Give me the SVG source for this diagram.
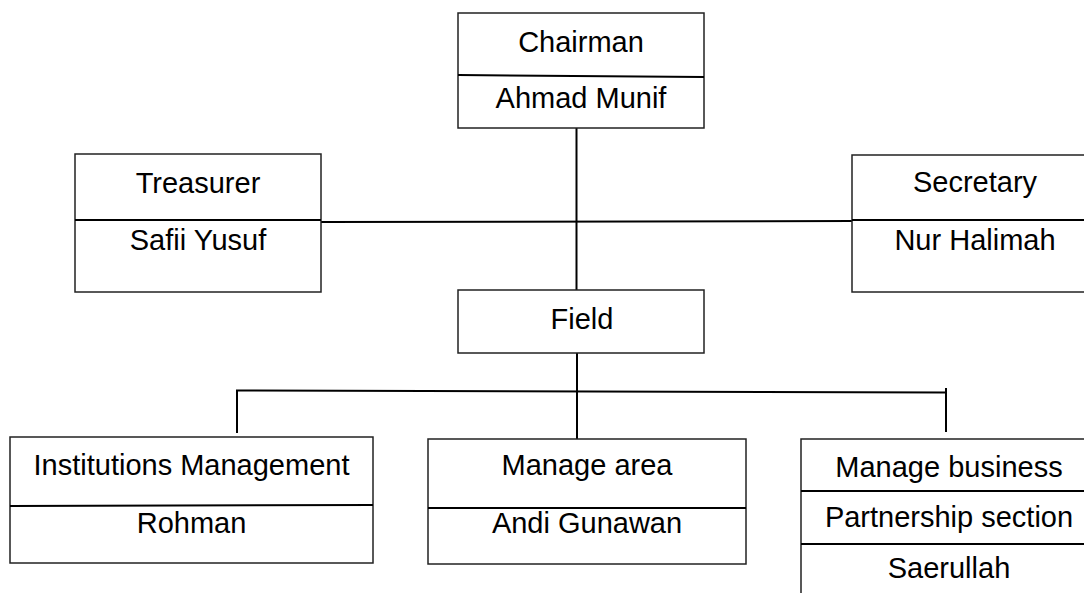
<svg xmlns="http://www.w3.org/2000/svg" width="1084" height="593" viewBox="0 0 1084 593">
<style>
.box{fill:#fff;stroke:#222;stroke-width:1.5}
.div{stroke:#000;stroke-width:2;fill:none}
.con{stroke:#000;stroke-width:2;fill:none}
text{font-family:"Liberation Sans",Arial,sans-serif;font-size:29px;fill:#000;text-anchor:middle}
</style>
<rect width="1084" height="593" fill="#fff"/>
<g id="connectors">
<line class="con" x1="576.5" y1="128" x2="576.5" y2="290"/>
<line class="con" x1="321" y1="222" x2="852" y2="221"/>
<line class="con" x1="577" y1="353" x2="577" y2="439"/>
<line class="con" x1="236" y1="390.5" x2="946" y2="392.5"/>
<line class="con" x1="237" y1="390.5" x2="237" y2="433"/>
<line class="con" x1="946" y1="388" x2="946" y2="432"/>
</g>
<g id="chairman">
<rect class="box" x="458" y="13" width="246" height="115"/>
<line class="div" x1="458" y1="75" x2="704" y2="77"/>
<text x="581" y="52">Chairman</text>
<text x="581" y="108">Ahmad Munif</text>
</g>
<g id="treasurer">
<rect class="box" x="75" y="154" width="246" height="138"/>
<line class="div" x1="75" y1="220" x2="321" y2="220"/>
<text x="198" y="193">Treasurer</text>
<text x="198" y="250">Safii Yusuf</text>
</g>
<g id="secretary">
<rect class="box" x="852" y="155" width="260" height="137"/>
<line class="div" x1="852" y1="220" x2="1100" y2="220"/>
<text x="975" y="192">Secretary</text>
<text x="975" y="250">Nur Halimah</text>
</g>
<g id="field">
<rect class="box" x="458" y="290" width="246" height="63"/>
<text x="582" y="329">Field</text>
</g>
<g id="institutions">
<rect class="box" x="10" y="437" width="363" height="126"/>
<line class="div" x1="10" y1="506" x2="373" y2="505"/>
<text x="191.5" y="475">Institutions Management</text>
<text x="191.5" y="533">Rohman</text>
</g>
<g id="manage-area">
<rect class="box" x="428" y="439" width="318" height="125"/>
<line class="div" x1="428" y1="508" x2="746" y2="508"/>
<text x="587" y="475">Manage area</text>
<text x="587" y="533">Andi Gunawan</text>
</g>
<g id="manage-business">
<rect class="box" x="801" y="439" width="310" height="170"/>
<line class="div" x1="801" y1="491" x2="1100" y2="491"/>
<line class="div" x1="801" y1="544" x2="1100" y2="544"/>
<text x="949" y="477">Manage business</text>
<text x="949" y="527">Partnership section</text>
<text x="949" y="578">Saerullah</text>
</g>
</svg>
